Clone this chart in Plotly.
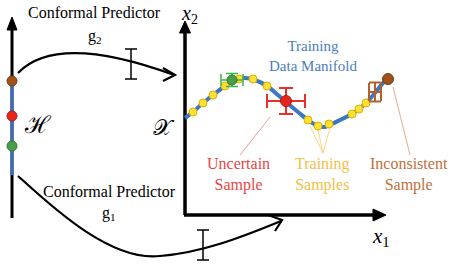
import plotly.graph_objects as go

# ---- data (pixel-space diagram coordinates) ----
manifold_x = [185, 193, 203, 213, 225, 235, 245, 255, 267, 278, 286, 298, 308, 318, 325, 332, 342, 352, 359, 366, 375, 383, 388]
manifold_y = [118, 112, 103, 95, 86, 80, 78, 80, 86, 95, 102, 112, 120, 126, 127, 124, 119, 114, 109, 103, 93, 83, 79]

training_x = [193, 203, 213, 225, 239, 253, 267, 308, 318, 329, 352, 359, 366]
training_y = [112, 103, 95, 86, 79, 79, 86, 120, 126, 124, 114, 109, 103]

green_pt = (232, 80)
red_pt = (286, 101)
brown_pred = (375, 92)
brown_pt = (388, 79)

green_err = (11, 6.5)
red_err = (19, 13)
brown_err = (6, 9.5)

latent_y = [81, 116, 146]
latent_colors = ["#A0521D", "#E8241C", "#4A9E48"]
latent_lines = ["#7A3A10", "#B01A14", "#357A33"]

SERIF = "Liberation Serif"

fig = go.Figure()

# manifold
fig.add_trace(go.Scatter(x=manifold_x, y=manifold_y, mode="lines",
                         line=dict(color="#3B78C4", width=4, shape="spline"),
                         hoverinfo="skip"))
# training samples
fig.add_trace(go.Scatter(x=training_x, y=training_y, mode="markers",
                         marker=dict(size=8, color="#FFE135", line=dict(color="#E0B000", width=1)),
                         hoverinfo="skip"))
# green sample with error bars
fig.add_trace(go.Scatter(x=[green_pt[0]], y=[green_pt[1]], mode="markers",
                         marker=dict(size=10, color="#4A9E48", line=dict(color="#357A33", width=1)),
                         error_x=dict(type="constant", value=green_err[0], color="#3CB34A", thickness=1.5, width=6),
                         error_y=dict(type="constant", value=green_err[1], color="#3CB34A", thickness=1.5, width=6),
                         hoverinfo="skip"))
# red uncertain sample
fig.add_trace(go.Scatter(x=[red_pt[0]], y=[red_pt[1]], mode="markers",
                         marker=dict(size=11, color="#E8241C", line=dict(color="#B01A14", width=1)),
                         error_x=dict(type="constant", value=red_err[0], color="#E8302A", thickness=2, width=7),
                         error_y=dict(type="constant", value=red_err[1], color="#E8302A", thickness=2, width=7),
                         hoverinfo="skip"))
# brown prediction error bars
fig.add_trace(go.Scatter(x=[brown_pred[0]], y=[brown_pred[1]], mode="markers",
                         marker=dict(size=1, color="rgba(0,0,0,0)"),
                         error_x=dict(type="constant", value=brown_err[0], color="#B5602A", thickness=2, width=9),
                         error_y=dict(type="constant", value=brown_err[1], color="#B5602A", thickness=2, width=6),
                         hoverinfo="skip"))
# brown inconsistent sample
fig.add_trace(go.Scatter(x=[brown_pt[0]], y=[brown_pt[1]], mode="markers",
                         marker=dict(size=11, color="#A0521D", line=dict(color="#7A3A10", width=1)),
                         hoverinfo="skip"))

shapes = []
def line(x0, y0, x1, y1, color="black", width=3):
    shapes.append(dict(type="line", x0=x0, y0=y0, x1=x1, y1=y1, xref="x", yref="y",
                       line=dict(color=color, width=width), layer="below"))
def path(p, color="black", width=2, fill=None):
    d = dict(type="path", path=p, xref="x", yref="y", line=dict(color=color, width=width), layer="below")
    if fill:
        d["fillcolor"] = fill
    shapes.append(d)

# left latent axis
line(12, 30, 12, 218, "black", 3)
line(12, 80, 12, 175, "#3B6CC4", 3)
path("M 7 30 L 12 17 L 17 30 Z", "black", 1, "black")

# right axes
line(185, 215, 185, 31, "black", 3.5)
line(184, 215, 374, 215, "black", 3.5)
path("M 179.5 33 L 185 21 L 190.5 33 Z", "black", 1, "black")
path("M 373 209 L 386 215 L 373 221 Z", "black", 1, "black")

# upper curved arrow (g2)
path("M 18 73 C 45 45 100 48 174 75", "black", 2.2)
path("M 163 68 L 175 75 L 163 81", "black", 2.2)
# lower curved arrow (g1)
path("M 18 176 C 50 205 110 262 160 256 C 200 253 240 238 281 221", "black", 2.2)
path("M 268 215 L 282 220 L 275 231", "black", 2.2)

# interval symbols
line(131, 49, 131, 79, "black", 1.5)
line(125, 49, 137, 49, "black", 1.5)
line(125, 79, 137, 79, "black", 1.5)
line(203, 230, 203, 260, "black", 1.5)
line(197, 230, 209, 230, "black", 1.5)
line(197, 260, 209, 260, "black", 1.5)

# pointer lines
line(270, 117, 240, 155, "#F08080", 0.8)
for sx, sy in [(310, 126), (318, 130), (330, 128)]:
    line(sx, sy, 323, 153, "#F5C96A", 0.8)
line(393, 87, 410, 155, "#D49A70", 0.8)

fig.add_trace(go.Scatter(x=[12, 12, 12], y=latent_y, mode="markers",
                         marker=dict(size=10, color=latent_colors, line=dict(color=latent_lines, width=1)),
                         hoverinfo="skip"))

annots = []
def text(x, y, s, color="black", size=15, family=SERIF):
    annots.append(dict(x=x, y=y, xref="x", yref="y", text=s, showarrow=False,
                       font=dict(family=family, size=size, color=color), align="center",
                       xanchor="center", yanchor="middle"))

text(94, 12, "Conformal Predictor", size=16)
text(95, 36, "g<sub>2</sub>", size=16)
text(109, 191, "Conformal Predictor", size=16)
text(109, 213, "g<sub>1</sub>", size=16)
text(313, 56, "Training<br>Data Manifold", "#4A7EBB", 15)
text(238, 174, "Uncertain<br>Sample", "#E84545", 16)
text(322, 174, "Training<br>Samples", "#F4C145", 16)
text(409, 174, "Inconsistent<br>Sample", "#C0703E", 16)
text(189, 14, "<i>x</i><sub>2</sub>", size=20)
text(381, 237, "<i>x</i><sub>1</sub>", size=21)
text(164, 127, "\U0001D4B3", size=22, family="DejaVu Serif")
text(37, 125, "\u210B", size=24, family="DejaVu Serif")

fig.update_layout(width=450, height=271, margin=dict(l=0, r=0, t=0, b=0),
                  paper_bgcolor="white", plot_bgcolor="white", showlegend=False,
                  xaxis=dict(range=[0, 450], visible=False, fixedrange=True),
                  yaxis=dict(range=[271, 0], visible=False, fixedrange=True),
                  shapes=shapes, annotations=annots)

fig.write_html("out.html", config={"displayModeBar": False},
               post_script="document.body.style.margin='0';document.body.style.overflow='hidden';")
